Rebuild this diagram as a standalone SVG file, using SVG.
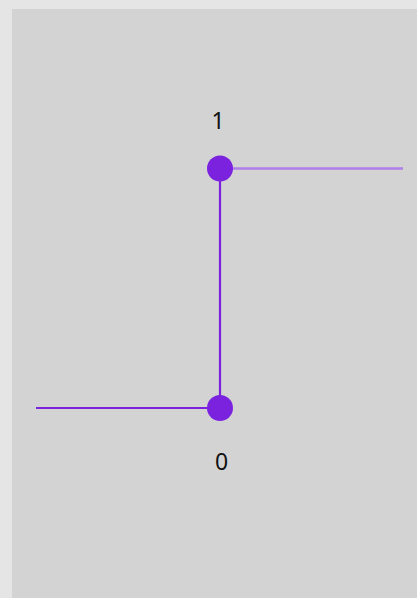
<svg xmlns="http://www.w3.org/2000/svg" width="417" height="598" viewBox="0 0 417 598">
<style>
.lbl{font-family:"Noto Sans","Open Sans",sans-serif;font-size:23px;fill:#111;text-anchor:middle}
.dot{fill:#7b22de}
.edge{stroke:#7b22de;stroke-width:2.2;fill:none}
.edge-light{stroke:#b07ee8;stroke-width:2.6;fill:none}
</style>
<rect x="0" y="0" width="417" height="598" fill="#e5e5e5"/>
<rect x="12" y="9" width="405" height="589" fill="#d3d3d3"/>
<g id="connectors">
<line class="edge-light" x1="226" y1="168.5" x2="403" y2="168.5"/>
<line class="edge" x1="220" y1="168" x2="220" y2="408"/>
<line class="edge" x1="36" y1="408" x2="220" y2="408"/>
</g>
<g id="node-1">
<circle class="dot" cx="220" cy="168.5" r="13"/>
<text class="lbl" x="218" y="129">1</text>
</g>
<g id="node-0">
<circle class="dot" cx="220" cy="408" r="13"/>
<text class="lbl" x="221.5" y="469.5">0</text>
</g>
</svg>
